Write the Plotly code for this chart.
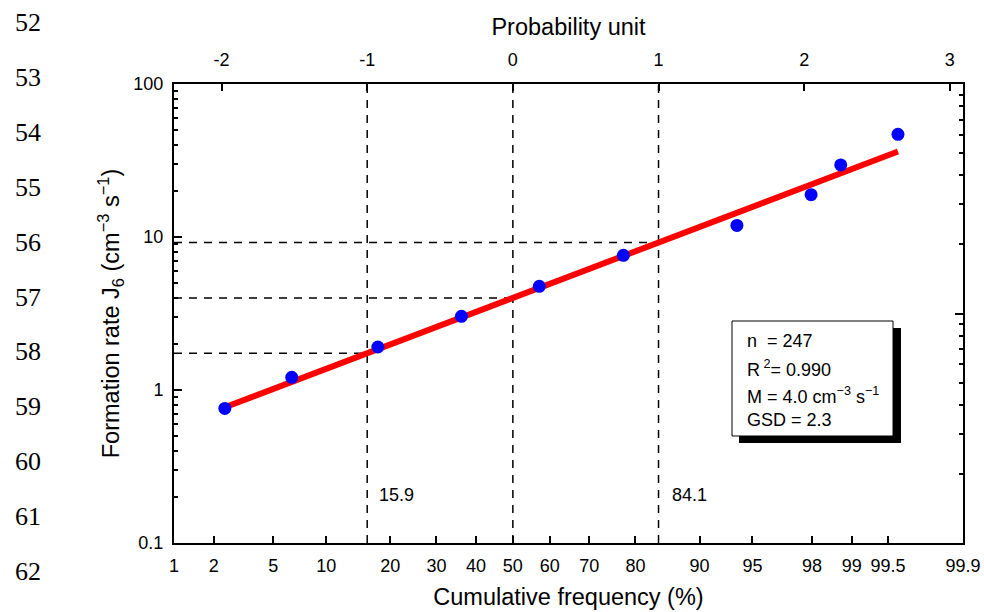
import plotly.graph_objects as go
from statistics import NormalDist

# ---------------- data ----------------
cum_freq_pct = [2.40, 6.45, 17.7, 36.2, 57.2, 77.6, 93.8, 97.97, 98.78, 99.59]
formation_rate = [0.758, 1.21, 1.91, 3.03, 4.76, 7.59, 11.9, 18.9, 29.6, 46.9]

fit_M = 4.0      # geometric mean, cm-3 s-1
fit_GSD = 2.3    # geometric standard deviation
n_obs = 247
r2 = 0.990

pct_ticks = [1, 2, 5, 10, 20, 30, 40, 50, 60, 70, 80, 90, 95, 98, 99, 99.5, 99.9]
pct_labels = ["1", "2", "5", "10", "20", "30", "40", "50", "60", "70", "80", "90",
              "95", "98", "99", "99.5", "99.9"]
probit_ticks = [-2, -1, 0, 1, 2, 3]
y_major = [0.1, 1, 10, 100]
y_major_labels = ["0.1", "1", "10", "100"]
y_right_major = [0.1, 1, 10]
sigma_pct_labels = ["15.9", "84.1"]
line_numbers = list(range(52, 63))

# ---------------- helpers ----------------
nd = NormalDist()
def probit(p_pct):
    return nd.inv_cdf(p_pct / 100.0)

x_pts = [probit(p) for p in cum_freq_pct]
x_lo, x_hi = probit(pct_ticks[0]), probit(pct_ticks[-1])
minor_vals = [m * 10 ** e for e in range(-2, 2) for m in range(2, 10)]

FONT = "Liberation Sans, Arial, sans-serif"
W, H = 984, 612
L, R, T, B = 174, 21, 84, 69
PW, PH = W - L - R, H - T - B

def px(xp):
    return (xp - L) / PW

def py(yp):
    return 1 - (yp - T) / PH

fig = go.Figure()

# dashed reference lines (probit -1, 0, +1)
dash = dict(color="black", width=1.5, dash="8px,7px")
for k in (-1, 0, 1):
    fig.add_trace(go.Scatter(x=[k, k], y=[y_major[0], y_major[-1]], mode="lines",
                             line=dash, hoverinfo="skip", showlegend=False))
    yv = fit_M * fit_GSD ** k
    fig.add_trace(go.Scatter(x=[x_lo, k], y=[yv, yv], mode="lines",
                             line=dash, hoverinfo="skip", showlegend=False))

# fitted line
x_fit = [min(x_pts), max(x_pts)]
y_fit = [fit_M * fit_GSD ** xv for xv in x_fit]
fig.add_trace(go.Scatter(x=x_fit, y=y_fit, mode="lines",
                         line=dict(color="#FF0000", width=6), showlegend=False))

# data points
fig.add_trace(go.Scatter(x=x_pts, y=formation_rate, mode="markers",
                         marker=dict(color="#0000FF", size=13, line=dict(width=0)),
                         showlegend=False))

# dummy trace for top/right axes
fig.add_trace(go.Scatter(x=[0], y=[1], xaxis="x2", yaxis="y2", mode="markers",
                         marker=dict(opacity=0), hoverinfo="skip", showlegend=False))

axis_common = dict(showgrid=False, zeroline=False, showline=True, linecolor="black",
                   linewidth=2, ticks="inside", tickcolor="black", tickwidth=1.5,
                   automargin=False,
                   tickfont=dict(family=FONT, size=18, color="black"))

TITLE_FONT = dict(family=FONT, size=23.5, color="black")

fig.update_layout(
    width=W, height=H,
    margin=dict(l=L, r=R, t=T, b=B),
    paper_bgcolor="white", plot_bgcolor="white",
    showlegend=False,
    font=dict(family=FONT, color="black"),
    xaxis=dict(range=[x_lo, x_hi], tickmode="array",
               tickvals=[probit(p) for p in pct_ticks], ticktext=pct_labels,
               ticklen=7, ticklabelstandoff=5,
               title=dict(text="Cumulative frequency (%)", font=TITLE_FONT, standoff=14),
               **axis_common),
    xaxis2=dict(range=[x_lo, x_hi], overlaying="x", side="top", tickmode="array",
                tickvals=probit_ticks, ticktext=[str(v) for v in probit_ticks],
                ticklen=7, ticklabelstandoff=9,
                title=dict(text="Probability unit", font=TITLE_FONT, standoff=8),
                **axis_common),
    yaxis=dict(type="log", range=[-1, 2], tickmode="array",
               tickvals=y_major, ticktext=y_major_labels, ticklen=8,
               ticklabelstandoff=5,
               minor=dict(tickmode="array", tickvals=minor_vals, ticklen=4,
                          ticks="inside", tickcolor="black", tickwidth=1.5),
               title=dict(text="Formation rate J<sub>6</sub> (cm<sup>−3</sup> s<sup>−1</sup>)",
                          font=TITLE_FONT, standoff=7),
               **axis_common),
    yaxis2=dict(type="log", range=[-1, 1], overlaying="y", side="right",
                tickmode="array", tickvals=y_right_major, showticklabels=False,
                ticklen=8,
                minor=dict(tickmode="array", tickvals=minor_vals, ticklen=4,
                           ticks="inside", tickcolor="black", tickwidth=1.5),
                **axis_common),
)

# statistics box with drop shadow
fig.add_shape(type="rect", xref="paper", yref="paper",
              x0=px(739), x1=px(901), y0=py(443), y1=py(328),
              fillcolor="black", line=dict(width=0), layer="above")
fig.add_shape(type="rect", xref="paper", yref="paper",
              x0=px(732), x1=px(893), y0=py(436), y1=py(321),
              fillcolor="white", line=dict(color="black", width=1), layer="above")

box_lines = [f"n\u00a0 = {n_obs}",
             f"R<sup>\u00a02</sup>= {r2:.3f}",
             f"M = {fit_M:.1f} cm<sup>−3</sup> s<sup>−1</sup>",
             f"GSD = {fit_GSD:.1f}"]
for txt, yc in zip(box_lines, [341, 368, 395, 420]):
    fig.add_annotation(text=txt, xref="paper", yref="paper", x=px(745), y=py(yc),
                       xanchor="left", yanchor="middle", showarrow=False,
                       font=dict(family=FONT, size=18, color="black"))

# sigma labels
for txt, xl in zip(sigma_pct_labels, [377, 670]):
    fig.add_annotation(text=txt, xref="paper", yref="paper", x=px(xl), y=py(495),
                       xanchor="left", yanchor="middle", showarrow=False,
                       font=dict(family=FONT, size=18, color="black"))

# manuscript line numbers
for i, num in enumerate(line_numbers):
    fig.add_annotation(text=str(num), xref="paper", yref="paper", x=px(28),
                       y=py(23 + 54.8 * i), xanchor="center", yanchor="middle",
                       showarrow=False,
                       font=dict(family="Liberation Serif, Times New Roman, serif",
                                 size=26, color="black"))

fig.write_html("out.html", config={"displayModeBar": False},
               post_script="document.body.style.margin='0px';document.body.style.overflow='hidden';")
